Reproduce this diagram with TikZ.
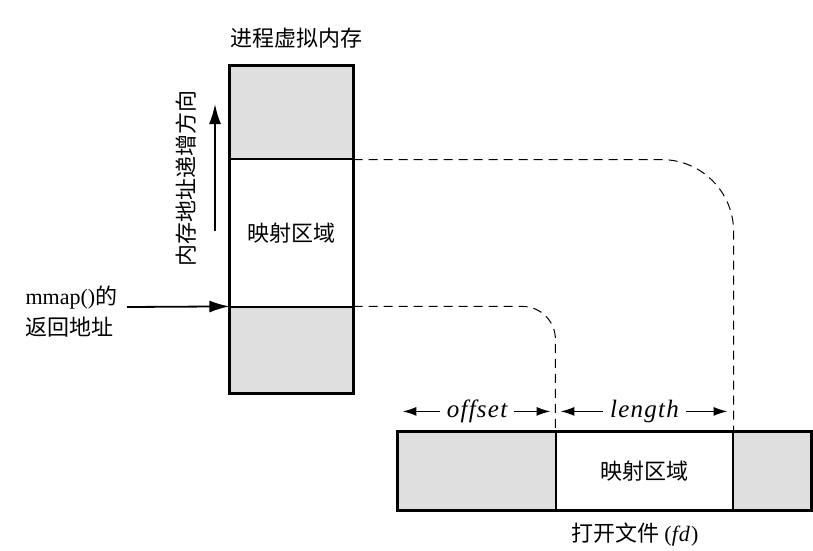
\documentclass[tikz,border=0pt]{standalone}
\usepackage{fontspec}
\setmainfont{Liberation Serif}
\newfontfamily\cjk{Noto Sans CJK SC}
\newfontfamily\itfont[Ligatures=NoCommon,LetterSpace=5]{Liberation Serif}
\usetikzlibrary{arrows.meta}
\begin{document}
\begin{tikzpicture}[x=1pt,y=-1pt,font=\fontsize{22}{31}\selectfont,
  cell/.style={draw,line width=1.2pt,minimum width=#1,inner sep=0pt},
  grey/.style={fill=gray!25},
  guide/.style={dash pattern=on 9pt off 6pt,line width=1pt},
  dim/.style={{Latex[length=14pt,width=9pt]}-{Latex[length=14pt,width=9pt]},line width=1.6pt,shorten <=5pt,shorten >=6pt},
  dimtext/.style={fill=white,inner xsep=7pt,font=\fontsize{25}{30}\itfont\itshape},
  arr/.style={-{Latex[length=20pt,width=12pt]},line width=1.8pt}]
  \useasboundingbox (0,0) rectangle (813,550);

  % process memory
  \node[cell=123,grey,minimum height=93]  (mtop) at (291.5,112.5) {};
  \node[cell=123,minimum height=148]      (mmid) at (291.5,233) {\cjk 映射区域};
  \node[cell=123,grey,minimum height=86]  (mbot) at (291.5,350) {};
  \draw[line width=2pt] (mtop.north west) rectangle (mbot.south east);
  \node (mtitle) at (296,38) {\cjk 进程虚拟内存};

  % growth direction
  \node[rotate=90] (grow) at (186,178) {\cjk 内存地址递增方向};
  \coordinate (g0) at (215,231);
  \coordinate (g1) at (215,104);
  \draw[arr] (g0) -- (g1);

  % return address
  \node[anchor=west,align=left] (ret) at (22,312) {mmap()\cjk 的\\\cjk 返回地址};
  \coordinate (r0) at (127,307);
  \draw[arr] (r0) -- (mbot.north west);

  % open file
  \node[cell=158,grey,minimum height=78] (fleft)  at (477,471) {};
  \node[cell=177,minimum height=78]      (fmid)   at (644.5,471) {\cjk 映射区域};
  \node[cell=78,grey,minimum height=78]  (fright) at (772,471) {};
  \draw[line width=2pt] (fleft.north west) rectangle (fright.south east);
  \node (ftitle) at (635,535) {\cjk 打开文件 \rmfamily(\itfont\itshape fd\/\upshape)};

  % mapping guides
  \draw[guide,rounded corners=72] (mtop.south east) -| (fmid.north east);
  \draw[guide,rounded corners=33] (mbot.north east) -| (fmid.north west);

  % offset and length
  \draw[dim] ([yshift=20]fleft.north west) -- node[dimtext] (off) {offset} ([yshift=20]fleft.north east);
  \draw[dim] ([yshift=20]fmid.north west) -- node[dimtext] (len) {length} ([yshift=20]fmid.north east);
\end{tikzpicture}
\end{document}
